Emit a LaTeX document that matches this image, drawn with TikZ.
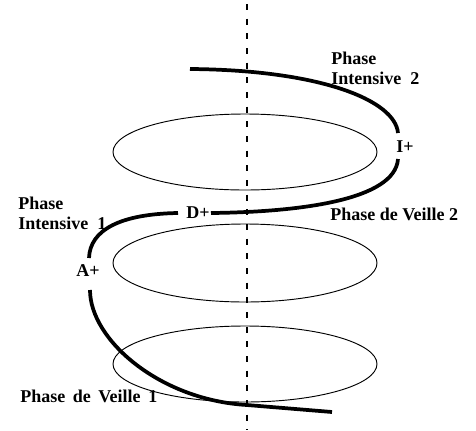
\documentclass[tikz,border=0pt]{standalone}
\usepackage{fontspec}
\setmainfont{Liberation Serif}
\begin{document}
\begin{tikzpicture}[x=0.75pt,y=-0.75pt,
  lbl/.style={font=\bfseries\fontsize{13.5}{15}\selectfont, inner sep=0pt, align=left},
  pt/.style={font=\bfseries\fontsize{13.5}{15}\selectfont, inner sep=0pt},
  ring/.style={line width=0.7pt},
  spiral/.style={line width=2.8pt},
  axisline/.style={line width=2pt, dash pattern=on 4.5pt off 6.5pt}]
\useasboundingbox (0,0) rectangle (476,430);
% axis
\draw[axisline] (247,4) -- (247,430);
% rings
\draw[ring] (245,152) ellipse [x radius=132, y radius=38];
\draw[ring] (245,263) ellipse [x radius=132, y radius=39];
\draw[ring] (245,364) ellipse [x radius=132, y radius=38];
% labels
\node[lbl, anchor=west] (pi2) at (331,68) {Phase\\Intensive\hspace{0.5em}2};
\node[pt] (iplus) at (405,147) {I+};
\node[lbl, anchor=west] (pi1) at (18,213) {Phase\\Intensive\hspace{0.5em}1};
\node[pt] (dplus) at (198,213) {D+};
\node[pt] (aplus) at (88,271) {A+};
\node[lbl, anchor=west] (pv2) at (330,214) {Phase de Veille 2};
\node[lbl, anchor=west] (pv1) at (20,396) {Phase\hspace{0.42em}de\hspace{0.42em}Veille\hspace{0.42em}1};
% spiral
\coordinate (s0) at (190,69);
\coordinate (s1) at (398,133);
\coordinate (s2) at (398,159);
\coordinate (s3) at (211,213);
\coordinate (s4) at (178,213);
\coordinate (s5) at (89,258);
\coordinate (s6) at (90,290);
\coordinate (s7) at (247,405);
\coordinate (s8) at (332,412);
\draw[spiral] (s0) .. controls (320,70) and (395,100) .. (s1);
\draw[spiral] (s2) .. controls (395,200) and (300,212) .. (s3);
\draw[spiral] (s4) .. controls (120,214) and (90,230) .. (s5);
\draw[spiral] (s6) .. controls (90,340) and (160,400) .. (s7)
  .. controls (290,409) .. (s8);
\end{tikzpicture}
\end{document}
